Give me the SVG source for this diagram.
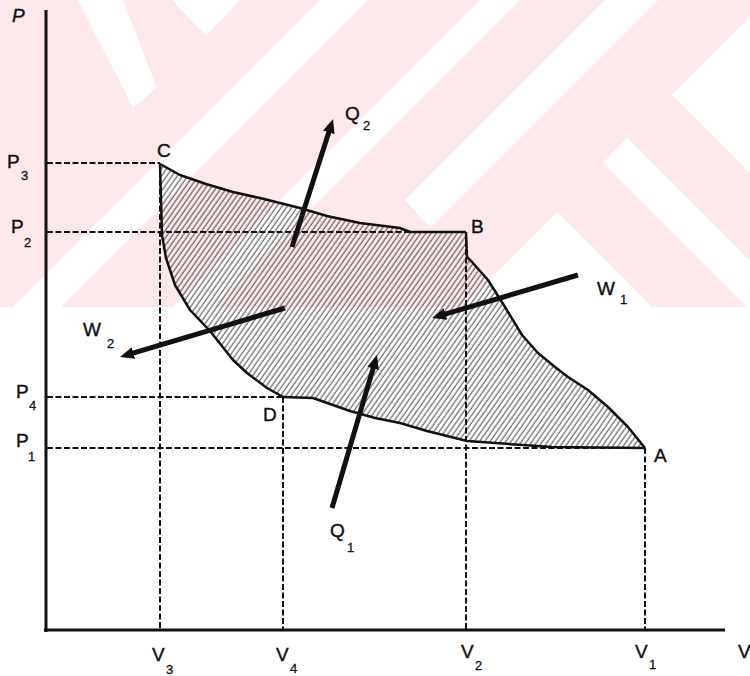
<svg xmlns="http://www.w3.org/2000/svg" width="750" height="676" viewBox="0 0 750 676">
<style>
.lbl{font-family:"Liberation Sans",Arial,sans-serif;fill:#111;stroke:#111;stroke-width:0.4;font-size:19px}
.sub{font-family:"Liberation Sans",Arial,sans-serif;fill:#111;stroke:#111;stroke-width:0.3;font-size:13px}
.axis{stroke:#111;stroke-width:3;fill:none}
.guide{stroke:#111;stroke-width:2;stroke-dasharray:6 2.5;fill:none}
.curve{stroke:#111;stroke-width:2.5;fill:none;stroke-linejoin:round}
.arrow{stroke:#111;stroke-width:5;fill:none;marker-end:url(#head)}
.wm{fill:#ffffff}
</style>
<defs>
<pattern id="hatch" width="4.3" height="10" patternUnits="userSpaceOnUse" patternTransform="rotate(35)">
<line x1="1" y1="0" x2="1" y2="10" stroke="#333" stroke-width="0.9"/>
</pattern>
<marker id="head" markerUnits="userSpaceOnUse" viewBox="0 0 14 12" refX="4" refY="6" markerWidth="14" markerHeight="12" orient="auto">
<path d="M0,0 L14,6 L0,12 z" fill="#111"/>
</marker>
<clipPath id="wmclip"><rect x="0" y="0" width="750" height="307"/></clipPath>
</defs>
<rect x="0" y="0" width="750" height="676" fill="#ffffff"/>
<g id="watermark" clip-path="url(#wmclip)">
<rect x="0" y="0" width="750" height="307" fill="#fde8ec"/>
<polygon class="wm" points="78,0 123,0 157,88 133,108"/>
<polygon class="wm" points="172,0 240,0 206,36"/>
<polygon class="wm" points="320,0 368,0 61,307 13,307"/>
<polygon class="wm" points="480,0 520,0 213,307 173,307"/>
<polygon class="wm" points="605,0 658,0 430,228 405,200"/>
<polygon class="wm" points="750,17 672,95 750,173"/>
<polygon class="wm" points="627,138 750,261 750,307 747,307 603,163"/>
<polygon class="wm" points="557,212 652,307 462,307"/>
</g>
<g id="cycle-area">
<path d="M160,164 L180,175 L206,184 L233,192 L260,198 L300,208 L327,216 L360,223 L400,228 L410,232 L466,232 L467,257 L472,262 L488,280 L505,307 L522,335 L538,353 L555,367 L568,377 L588,390 L608,407 L628,427 L645,448 L552,447 L467,441 L427,431 L400,423 L375,418 L350,411 L313,398 L283,397 L267,388 L247,373 L233,360 L210,331 L190,310 L175,285 L166,258 L162,235 Z" fill="url(#hatch)" stroke="none"/>
</g>
<g id="guides">
<line class="guide" x1="47" y1="163" x2="160" y2="163"/>
<line class="guide" x1="47" y1="232" x2="466" y2="232"/>
<line class="guide" x1="47" y1="397" x2="283" y2="397"/>
<line class="guide" x1="47" y1="448" x2="645" y2="448"/>
<line class="guide" x1="160" y1="163" x2="160" y2="630"/>
<line class="guide" x1="283" y1="397" x2="283" y2="630"/>
<line class="guide" x1="466" y1="232" x2="466" y2="630"/>
<line class="guide" x1="645" y1="448" x2="645" y2="630"/>
</g>
<g id="axes">
<line class="axis" x1="46" y1="10" x2="46" y2="632"/>
<line class="axis" x1="44" y1="630" x2="725" y2="630"/>
<text class="lbl" x="12" y="22" font-style="italic">P</text>
<text class="lbl" x="738" y="658">V</text>
<text class="lbl" x="7" y="168">P</text><text class="sub" x="21" y="180">3</text>
<text class="lbl" x="11" y="233">P</text><text class="sub" x="24" y="247">2</text>
<text class="lbl" x="16" y="398">P</text><text class="sub" x="29" y="410">4</text>
<text class="lbl" x="16" y="447">P</text><text class="sub" x="28" y="461">1</text>
<text class="lbl" x="152" y="661">V</text><text class="sub" x="166" y="674">3</text>
<text class="lbl" x="276" y="661">V</text><text class="sub" x="290" y="673">4</text>
<text class="lbl" x="461" y="658">V</text><text class="sub" x="475" y="670">2</text>
<text class="lbl" x="635" y="658">V</text><text class="sub" x="649" y="669">1</text>
</g>
<g id="node-C"><text class="lbl" x="157" y="157">C</text></g>
<g id="node-B"><text class="lbl" x="471" y="233">B</text></g>
<g id="node-A"><text class="lbl" x="654" y="462">A</text></g>
<g id="node-D"><text class="lbl" x="263" y="421">D</text></g>
<g id="connectors">
<path class="curve" d="M160,164 L180,175 L206,184 L233,192 L260,198 L300,208 L327,216 L360,223 L400,228 L410,232 L466,232"/>
<path class="curve" d="M466,232 L467,257 L472,262 L488,280 L505,307 L522,335 L538,353 L555,367 L568,377 L588,390 L608,407 L628,427 L645,448"/>
<path class="curve" d="M645,448 L552,447 L467,441 L427,431 L400,423 L375,418 L350,411 L313,398 L283,397"/>
<path class="curve" d="M283,397 L267,388 L247,373 L233,360 L210,331 L190,310 L175,285 L166,258 L162,235 L160,164"/>
</g>
<g id="heat-work-arrows">
<line class="arrow" x1="292" y1="247" x2="330" y2="128.5"/>
<line class="arrow" x1="578" y1="275" x2="441.6" y2="315.2"/>
<line class="arrow" x1="285" y1="308" x2="129.6" y2="354.2"/>
<line class="arrow" x1="332" y1="508" x2="374.2" y2="364.6"/>
</g>
<g id="arrow-labels">
<text class="lbl" x="345" y="120">Q</text><text class="sub" x="363" y="130">2</text>
<text class="lbl" x="330" y="537">Q</text><text class="sub" x="347" y="552">1</text>
<text class="lbl" x="597" y="295">W</text><text class="sub" x="620" y="304">1</text>
<text class="lbl" x="83" y="336">W</text><text class="sub" x="107" y="348">2</text>
</g>
</svg>
